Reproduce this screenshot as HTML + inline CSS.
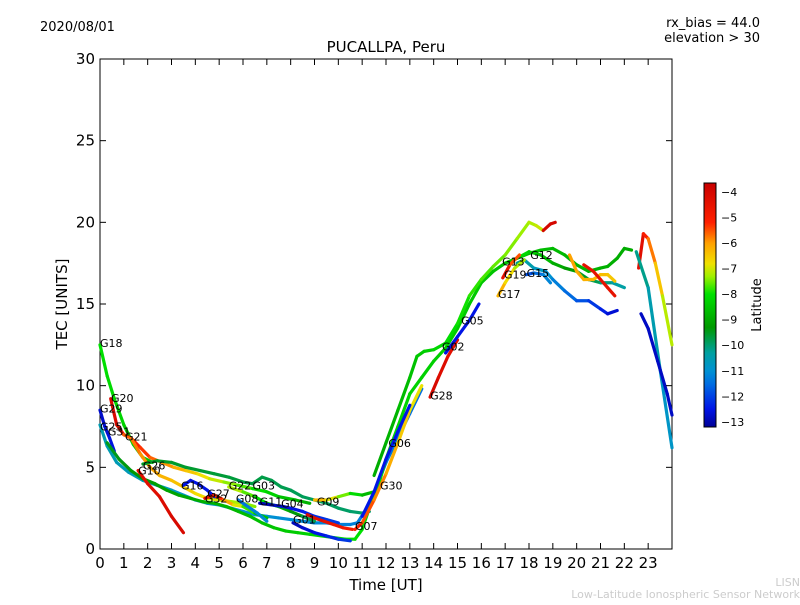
<!DOCTYPE html>
<html><head><meta charset="utf-8"><style>
body{margin:0;background:#fff}
svg text{font-family:"DejaVu Sans","Liberation Sans",sans-serif}
</style></head><body>
<svg id="chart" width="800" height="600" xmlns="http://www.w3.org/2000/svg">
<defs><linearGradient id="jet" x1="0" y1="1" x2="0" y2="0"></linearGradient></defs>
<text x="40" y="31" font-size="13">2020/08/01</text>
<text x="760" y="27" font-size="13" text-anchor="end">rx_bias = 44.0</text>
<text x="760" y="42" font-size="13" text-anchor="end">elevation &gt; 30</text>
<text x="386" y="52" font-size="15" text-anchor="middle">PUCALLPA, Peru</text>
<rect x="100" y="59" width="572" height="490" fill="#fff" stroke="#000"/>
<g id="marks"></g>
<g id="axes"></g>
<text x="386" y="590" font-size="15" text-anchor="middle">Time [UT]</text>
<text transform="translate(67,304) rotate(-90)" font-size="15" text-anchor="middle">TEC [UNITS]</text>
<rect x="704" y="183" width="12" height="244" fill="url(#jet)" stroke="#000"/>
<text transform="translate(761,305) rotate(-90)" font-size="13" text-anchor="middle">Latitude</text>
<text x="800" y="586" font-size="11" fill="#ccc" text-anchor="end">LISN</text>
<text x="800" y="598" font-size="11" fill="#ccc" text-anchor="end">Low-Latitude Ionospheric Sensor Network</text>
</svg>
<script>
const xTicks=[0,1,2,3,4,5,6,7,8,9,10,11,12,13,14,15,16,17,18,19,20,21,22,23];
const yTicks=[0,5,10,15,20,25,30];
const cbTicks=[-4,-5,-6,-7,-8,-9,-10,-11,-12,-13];
const trackNames=["G18","G20","G29","G25","G31","RISE","G21","G10","G16","G32","G22","G03","G08","G11","G09","G01","G07","G30","G06","G28","G05","G02","G02b","G13","G15","G12","G19","G17","AC","AD","AE","AF","AG"];
const trackHours=[
[0,0.3,0.6,1,1.4,1.8,2.2],
[0.45,0.7,1,1.3,1.7,2.1,2.6,3.1,3.6,4.1,4.6,5.2,5.8,6.4,7.0,7.5,8.2,8.8],
[0,0.2,0.4,0.6],
[0,0.3,0.7,1.2,1.8,2.4,3,3.5,4,4.5,5,5.5,6,6.5,7,7.5,8,8.5,9,9.5,10,10.5,10.8,11.2,11.6,12,12.5,13,13.5],
[0.3,0.8,1.3,1.8,2.3,2.8,3.3,3.8,4.3,4.8,5.3,5.8,6.3,6.8,7.3,7.8,8.3,8.8,9.3,9.8,10.3,10.7],
[10.7,11,11.3,11.7,12,12.5,13,13.5,14,14.5,15,15.5,16,16.5,17,17.5,18,18.5,19,19.5,20,20.5,21,21.3,21.7,22,22.3],
[1,1.3,1.7,2.1,2.5,3,3.5,4,4.5,5,5.5,6,6.5],
[1.6,2,2.5,3,3.5],
[3.5,3.8,4.1,4.5,4.8],
[4.4,4.8,5.2,5.6,6,6.5,7],
[5.4,6,6.5,7,7.5,8,8.5,9],
[1.8,2.4,3,3.6,4.2,4.8,5.4,6,6.4,6.8,7.2,7.6,8,8.5,9,9.5,10,10.5,11,11.3],
[5.8,6.2,6.6,7],
[6.7,7.2,7.7,8,8.5,9,9.5,10],
[9,9.5,10,10.5,11,11.5],
[8.1,8.5,9,9.5,10,10.5],
[8.7,9,9.4,9.8,10.2,10.6],
[10.7,11,11.5,12,12.5,13,13.5],
[11,11.5,12,12.5,13],
[13.85,14.2,14.6,15],
[14.5,15,15.5,15.9],
[11.5,12,12.5,13,13.3,13.6,14,14.5,15,15.5,16,16.5,17,17.5,18,18.3,18.6],
[18.6,18.9,19.1],
[17.5,17.8,18.2,18.7,19,19.5,20,20.5,21,21.3,21.7],
[17.9,18.2,18.6,18.9],
[17.5,18,18.5,19,19.5,20,20.5,21,21.5,22],
[16.9,17.2,17.6],
[16.7,17,17.4,17.8],
[19.7,20,20.3,20.7,21,21.3,21.6],
[20.3,20.7,21,21.3,21.6],
[22.6,22.8,23,23.3,23.6,24],
[22.5,23,23.5,24],
[22.7,23,23.4,23.8,24]];
const trackTec=[
[12.5,10.6,9.2,7.6,6.4,5.6,5.3],
[9.2,7.6,7.0,6.8,6.2,5.6,5.3,5.0,4.8,4.6,4.3,4.1,3.9,3.7,3.5,3.2,3.0,2.8],
[8.5,7.5,6.8,6.0],
[7.6,6.3,5.3,4.7,4.2,3.9,3.6,3.3,3.0,2.8,2.7,2.5,2.3,2.1,2.0,1.9,1.8,1.7,1.6,1.6,1.5,1.5,1.6,2.5,3.8,5.3,6.8,8.3,9.8],
[6.5,5.5,4.8,4.3,4.0,3.6,3.3,3.1,2.9,2.8,2.6,2.3,2.0,1.6,1.3,1.1,1.0,0.9,0.8,0.7,0.6,0.6],
[0.6,1.2,2.5,4,5.5,7.5,9.5,10.5,11.5,12.3,13.5,15,16.3,17,17.5,17.8,18.1,18.3,18.4,18.0,17.4,17.0,17.2,17.3,17.8,18.4,18.3],
[7.0,6.8,5.8,5.0,4.5,4.2,3.8,3.4,3.1,3.0,2.9,2.8,2.6],
[4.8,4.0,3.2,2.0,1.0],
[3.9,4.2,4.0,3.6,3.2],
[3.1,3.3,3.0,2.7,2.6,2.2,1.9],
[3.8,3.5,3.2,2.8,2.6,2.3,2.0,1.7],
[5.2,5.4,5.3,5.0,4.8,4.6,4.4,4.1,4.0,4.4,4.2,3.8,3.6,3.2,3.0,2.8,2.5,2.3,2.2,2.3],
[3.0,2.6,2.2,1.7],
[2.8,2.7,2.6,2.5,2.3,2.0,1.8,1.6],
[3.0,3.0,3.2,3.4,3.3,3.5],
[1.6,1.3,1.0,0.8,0.6,0.5],
[2.1,1.9,1.7,1.5,1.3,1.2],
[1.2,1.6,3.0,4.6,6.5,8.5,10],
[2,3.5,5.5,7.2,8.8],
[9.3,10.5,11.8,12.8],
[12,13,14,15],
[4.5,6.5,8.5,10.5,11.8,12.1,12.2,12.6,13.8,15.5,16.5,17.3,18,19,20,19.8,19.5],
[19.5,19.9,20.0],
[17.5,17.7,17.2,17,16.5,15.8,15.2,15.2,14.7,14.4,14.6],
[16.8,16.9,16.8,16.3],
[17.8,18.2,18.0,17.5,17.2,17.0,16.5,16.3,16.3,16.0],
[16.6,17.4,18],
[15.5,16.3,17.2,17.7],
[18.0,17.0,16.5,16.5,16.8,16.8,16.4],
[17.4,17.0,16.5,16,15.5],
[17.2,19.3,19.0,17.5,15.5,12.5],
[18.2,16,11,6.2],
[14.4,13.5,11.5,9.5,8.2]];
const latStart=[-8,-4,-12.8,-10.5,-9.5,-8,-5.5,-4.5,-12.5,-4,-7,-9.5,-11.5,-13,-6,-13,-4,-5,-12.5,-4,-12.5,-9,-4,-10,-12,-8,-4,-6,-6,-4.5,-4,-10,-12.8];
const latEnd=[-8.5,-9,-12.5,-11.5,-8,-9,-7.5,-4,-12.5,-9,-10,-10,-11,-12,-9,-12,-5,-7,-12.5,-4.5,-12.5,-7,-4,-12.8,-11,-10.5,-6,-7.5,-6.5,-4.5,-7.5,-11,-12.8];
const labelNames=["G18","G20","G29","G25","G31","G21","G26","G10","G16","G27","G32","G22","G03","G08","G11","G04","G09","G01","G07","G30","G06","G28","G02","G05","G13","G19","G15","G12","G17"];
const labelHours=[0,0.46,0,0,0.33,1.05,1.8,1.6,3.4,4.5,4.4,5.4,6.4,5.7,6.7,7.6,9.1,8.1,10.7,11.75,12.1,13.85,14.35,15.15,16.87,16.95,17.9,18.05,16.7];
const labelTec=[12.6,9.25,8.6,7.5,7.2,6.9,5.1,4.8,3.9,3.4,3.1,3.9,3.9,3.1,2.9,2.8,2.9,1.8,1.4,3.9,6.5,9.4,12.4,14.0,17.6,16.8,16.9,18.0,15.6];

const NS="http://www.w3.org/2000/svg";
const X=h=>100+h*572/24, Y=v=>549-v*490/30;
const vmin=-13.2,vmax=-3.65;
const cmap=[[-13.2,[0,0,150]],[-12.5,[0,20,230]],[-11.5,[0,110,225]],[-11,[0,145,210]],[-10.3,[0,160,160]],[-9.3,[0,153,0]],[-8,[0,225,0]],[-7.3,[160,240,0]],[-6.8,[240,224,0]],[-6,[255,160,0]],[-5.2,[255,32,0]],[-3.65,[200,0,0]]];
function jet(lat){
 if(lat<=cmap[0][0])return `rgb(${cmap[0][1]})`;
 for(let i=1;i<cmap.length;i++){if(lat<=cmap[i][0]){const a=cmap[i-1],b=cmap[i],t=(lat-a[0])/(b[0]-a[0]);
  return `rgb(${a[1].map((c,k)=>Math.round(c+(b[1][k]-c)*t)).join(',')})`;}}
 return `rgb(${cmap[cmap.length-1][1]})`;}
const grad=document.getElementById('jet');
cmap.forEach(s=>{const st=document.createElementNS(NS,'stop');st.setAttribute('offset',(s[0]-vmin)/(vmax-vmin));st.setAttribute('stop-color',`rgb(${s[1]})`);grad.appendChild(st);});
const marks=document.getElementById('marks'),axes=document.getElementById('axes');
function mk(tag,at,parent){const e=document.createElementNS(NS,tag);for(const k in at)e.setAttribute(k,at[k]);parent.appendChild(e);return e;}
trackHours.forEach((hs,i)=>{
 const g=mk('g',{},marks);
 
 
 const n=hs.length;
 for(let j=0;j<n-1;j++){
  const lat=latStart[i]+(latEnd[i]-latStart[i])*(j+0.5)/Math.max(1,n-1);
  const l=mk('line',{x1:X(hs[j]),y1:Y(trackTec[i][j]),x2:X(hs[j+1]),y2:Y(trackTec[i][j+1]),stroke:jet(lat),'stroke-width':3.2,'stroke-linecap':'round'},g);
  
  
 }
});
labelNames.forEach((nm,i)=>{
 const t=mk('text',{x:X(labelHours[i]),y:Y(labelTec[i])+4,'font-size':11},marks);
 t.textContent=nm;
 
 
});
xTicks.forEach(h=>{
 mk('line',{x1:X(h),x2:X(h),y1:549,y2:543,stroke:'#000'},axes);
 mk('line',{x1:X(h),x2:X(h),y1:59,y2:65,stroke:'#000'},axes);
 const t=mk('text',{x:X(h),y:568,'font-size':15,'text-anchor':'middle'},axes);
 t.textContent=h;
 
 
});
yTicks.forEach(v=>{
 mk('line',{x1:100,x2:106,y1:Y(v),y2:Y(v),stroke:'#000'},axes);
 mk('line',{x1:672,x2:666,y1:Y(v),y2:Y(v),stroke:'#000'},axes);
 const t=mk('text',{x:95,y:Y(v)+5,'font-size':15,'text-anchor':'end'},axes);
 t.textContent=v;
 
 
});
cbTicks.forEach(v=>{
 const y=427-(v-vmin)/(vmax-vmin)*244;
 mk('line',{x1:704,x2:708,y1:y,y2:y,stroke:'#000'},axes);
 mk('line',{x1:716,x2:712,y1:y,y2:y,stroke:'#000'},axes);
 const t=mk('text',{x:721,y:y+4,'font-size':11},axes);
 t.textContent='\u2212'+Math.abs(v);
 
 
});
</script>
</body></html>
